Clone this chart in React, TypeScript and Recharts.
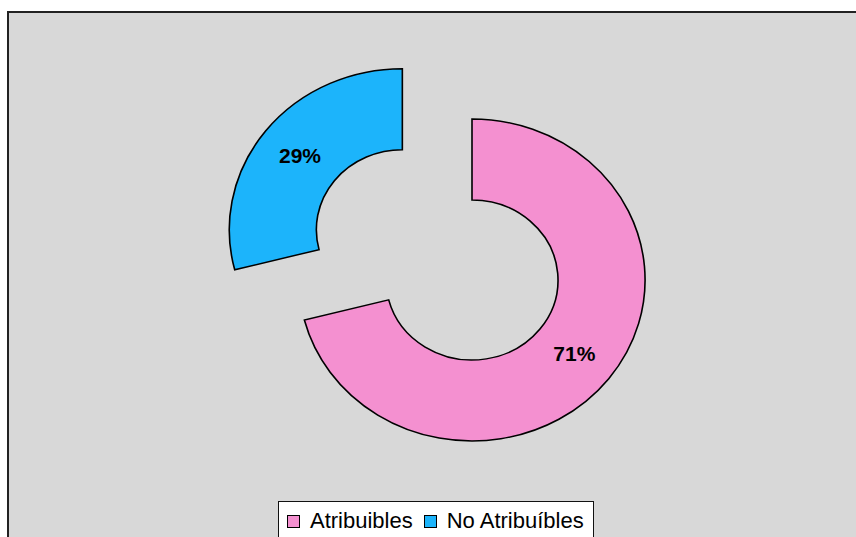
import React from 'react';
import { PieChart, Pie, Cell, Legend, Sector } from 'recharts';

const categories = ['Atribuibles', 'No Atribuíbles'];
const values = [71, 29];
const colors = ['#f490d0', '#1cb4fb'];
const explode = [0, 82];

const data = categories.map((name, i) => ({ name, value: values[i] }));

const SX = 1.075;
const RAD = Math.PI / 180;

function idxOf(p: any): number {
  const n = p?.name ?? p?.payload?.name;
  const i = categories.indexOf(n);
  return i < 0 ? 0 : i;
}

function offsetFor(i: number, midAngle: number) {
  const d = explode[i] || 0;
  return { dx: Math.cos(-midAngle * RAD) * d * SX, dy: Math.sin(-midAngle * RAD) * d };
}

const renderShape = (props: any) => {
  const i = idxOf(props);
  const { dx, dy } = offsetFor(i, props.midAngle);
  const cx = props.cx;
  return (
    <g transform={`translate(${dx},${dy}) translate(${cx},0) scale(${SX},1) translate(${-cx},0)`}>
      <Sector {...props} />
    </g>
  );
};

const renderLabel = (p: any) => {
  const i = idxOf(p);
  const r = (p.innerRadius + p.outerRadius) / 2;
  const { dx, dy } = offsetFor(i, p.midAngle);
  const x = p.cx + dx + Math.cos(-p.midAngle * RAD) * r * SX;
  const y = p.cy + dy + Math.sin(-p.midAngle * RAD) * r;
  return (
    <text
      x={x}
      y={y}
      textAnchor="middle"
      dominantBaseline="central"
      fontFamily="'Liberation Sans', Arial, sans-serif"
      fontWeight="bold"
      fontSize={21}
      fill="#000"
    >
      {`${Math.round(p.percent * 100)}%`}
    </text>
  );
};

const renderLegend = (props: any) => {
  const payload = props.payload || [];
  return (
    <div
      style={{
        boxSizing: 'border-box',
        width: 316,
        height: 44,
        background: '#ffffff',
        border: '1px solid #111',
        display: 'flex',
        alignItems: 'flex-start',
        paddingLeft: 8,
        paddingTop: 9,
        fontFamily: "'Liberation Sans', Arial, sans-serif",
        fontSize: 22,
        color: '#000',
        lineHeight: '20px',
      }}
    >
      {payload.map((entry: any, k: number) => (
        <div key={k} style={{ display: 'flex', alignItems: 'center', marginRight: 11, whiteSpace: 'nowrap' }}>
          <span
            style={{
              display: 'inline-block',
              boxSizing: 'border-box',
              width: 13,
              height: 13,
              background: entry.color,
              border: '1px solid #000',
              marginRight: 10,
            }}
          />
          <span>{entry.value}</span>
        </div>
      ))}
    </div>
  );
};

export default function App() {
  return (
    <div style={{ position: 'fixed', left: 0, top: 0, width: 856, height: 537, overflow: 'hidden', background: '#ffffff' }}>
      <div
        style={{
          position: 'absolute',
          left: 7,
          top: 11,
          width: 849,
          height: 526,
          boxSizing: 'border-box',
          borderTop: '2px solid #222',
          borderLeft: '2px solid #222',
          background: '#d8d8d8',
        }}
      />
      <div style={{ position: 'absolute', left: 0, top: 0 }}>
        <PieChart width={856} height={537} margin={{ top: 0, right: 0, bottom: 0, left: 0 }}>
          <Pie
            data={data}
            dataKey="value"
            nameKey="name"
            cx={472}
            cy={280}
            innerRadius={80}
            outerRadius={161}
            startAngle={90}
            endAngle={-270}
            stroke="#000"
            strokeWidth={1.5}
            shape={renderShape}
            inactiveShape={renderShape}
            activeShape={renderShape}
            label={renderLabel}
            labelLine={false}
            isAnimationActive={false}
          >
            {data.map((d, i) => (
              <Cell key={d.name} fill={colors[i]} />
            ))}
          </Pie>
          <Legend
            content={renderLegend}
            wrapperStyle={{ position: 'absolute', left: 278, top: 501, width: 316, height: 44, bottom: 'auto', right: 'auto' }}
          />
        </PieChart>
      </div>
    </div>
  );
}
